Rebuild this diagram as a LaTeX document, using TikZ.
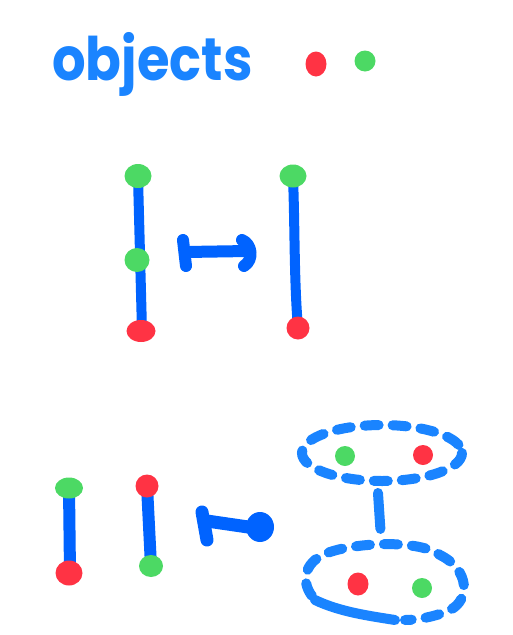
\documentclass[tikz,border=0pt]{standalone}
\usepackage{fontspec}
\setmainfont{Poppins}
\usetikzlibrary{shapes.geometric}
\definecolor{penblue}{HTML}{0063FF}
\definecolor{litblue}{HTML}{1A84FF}
\definecolor{dotred}{HTML}{FF3344}
\definecolor{dotgreen}{HTML}{4CD964}
\tikzset{
  stroke/.style={draw=penblue,line width=10pt,line cap=round,line join=round},
  dashstroke/.style={draw=litblue,line width=10pt,line cap=round,dash pattern=on 14pt off 14pt},
  rdot/.style={ellipse,fill=dotred,inner sep=0pt,minimum width=22pt,minimum height=22pt},
  gdot/.style={ellipse,fill=dotgreen,inner sep=0pt,minimum width=22pt,minimum height=22pt},
}
\begin{document}
\begin{tikzpicture}[x=1pt,y=-1pt]
\useasboundingbox (0,0) rectangle (512,635);
% title
\node[anchor=base west,text=litblue,font=\fontsize{60}{60}\selectfont\bfseries,inner sep=0pt,xscale=0.88] (title) at (52,80) {objects};
\node[rdot,minimum width=21pt,minimum height=25pt] (r0) at (316,64) {};
\node[gdot,minimum width=21pt,minimum height=21pt] (g0) at (365,61) {};
% middle row
\coordinate (a1) at (138,177);
\coordinate (a2) at (142,331);
\draw[stroke] (a1) -- (a2);
\node[gdot,minimum width=27pt,minimum height=24pt] (ga1) at (138,176) {};
\node[gdot,minimum width=25pt,minimum height=24pt] (ga2) at (137,260) {};
\node[rdot,minimum width=29pt,minimum height=22pt] (ra1) at (141,331) {};
\coordinate (m1a) at (183,240);
\coordinate (m1b) at (186,266);
\coordinate (m1c) at (186,252);
\coordinate (m1d) at (248,251);
\draw[stroke,line width=12pt] (m1a) -- (m1b);
\draw[stroke,line width=12pt] (m1c) -- (m1d);
\draw[stroke,line width=12pt] (242,240) .. controls (252,244) and (254,260) .. (244,266);
\coordinate (b1) at (293,177);
\coordinate (b2) at (298,328);
\draw[stroke] (b1) .. controls (295,230) and (294,280) .. (b2);
\node[gdot,minimum width=27pt,minimum height=23pt] (gb1) at (293,176) {};
\node[rdot,minimum width=23pt,minimum height=23pt] (rb1) at (298,328) {};
% bottom row
\coordinate (c1) at (69,488);
\coordinate (c2) at (70,573);
\draw[stroke,line width=12pt] (c1) -- (c2);
\node[gdot,minimum width=28pt,minimum height=21pt] (gc1) at (69,488) {};
\node[rdot,minimum width=27pt,minimum height=25pt] (rc1) at (69,573) {};
\coordinate (d1) at (147,486);
\coordinate (d2) at (151,566);
\draw[stroke,line width=12pt] (d1) -- (d2);
\node[rdot,minimum width=23pt,minimum height=23pt] (rd1) at (147,486) {};
\node[gdot,minimum width=24pt,minimum height=22pt] (gd1) at (151,566) {};
\coordinate (m2a) at (202,512);
\coordinate (m2b) at (207,540);
\coordinate (m2c) at (207,521);
\coordinate (m2d) at (255,528);
\draw[stroke,line width=13pt] (m2a) -- (m2b);
\draw[stroke,line width=13pt] (m2c) -- (m2d);
\node[ellipse,fill=penblue,minimum width=28pt,minimum height=30pt,inner sep=0pt] (head2) at (260,527) {};
% dashed spheres
\draw[dashstroke] (382,453) ellipse [x radius=80,y radius=28];
\node[gdot,minimum width=20pt,minimum height=20pt] (ge1) at (345,456) {};
\node[rdot,minimum width=20pt,minimum height=20pt] (re1) at (423,455) {};
\coordinate (v1) at (378,493);
\coordinate (v2) at (381,538);
\draw[dashstroke,dash pattern=on 36pt off 14pt] (v1) -- (v2);
\draw[dashstroke] (312,596) .. controls (300,580) and (305,560) .. (330,552)
  .. controls (360,542) and (420,540) .. (440,555)
  .. controls (470,570) and (470,600) .. (450,610)
  .. controls (440,615) and (420,620) .. (405,620);
\draw[draw=litblue,line width=10pt,line cap=round] (315,600) .. controls (340,612) and (370,616) .. (395,620);
\node[rdot,minimum width=21pt,minimum height=23pt] (re2) at (358,584) {};
\node[gdot,minimum width=20pt,minimum height=20pt] (ge2) at (422,588) {};
\end{tikzpicture}
\end{document}
